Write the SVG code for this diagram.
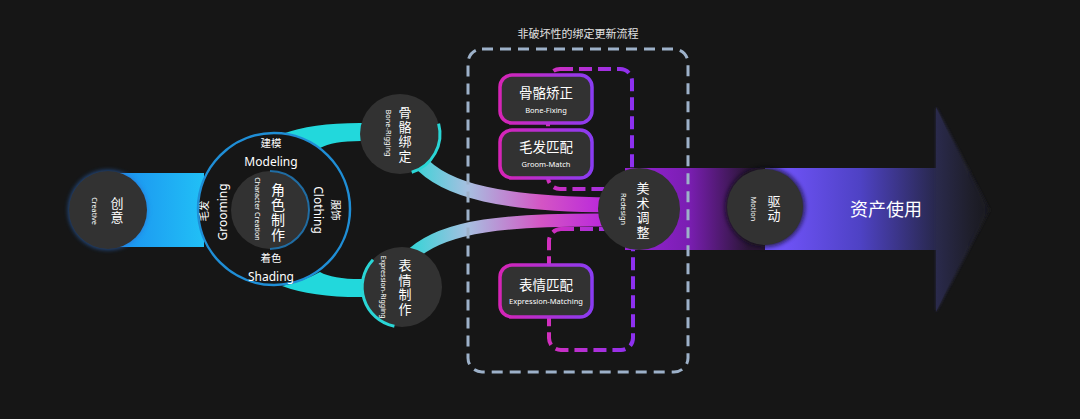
<svg xmlns="http://www.w3.org/2000/svg" width="1080" height="419" viewBox="0 0 1080 419">
<style>
.cn{font-family:"Noto Sans CJK SC","Noto Sans",sans-serif;fill:#ffffff;text-anchor:middle}
.en{font-family:"Noto Sans","Liberation Sans",sans-serif;fill:#ffffff;text-anchor:middle}
.v{writing-mode:vertical-rl;letter-spacing:1.5px}
.node{fill:#323232}
.box{fill:#323232;stroke:url(#boxStroke);stroke-width:3.5}
.dashp{fill:none;stroke:url(#dashStroke);stroke-width:4;stroke-dasharray:13 6}
</style>
<defs>
<linearGradient id="blueBand" x1="0" y1="0" x2="1" y2="0"><stop offset="0" stop-color="#1b8cef"/><stop offset="1" stop-color="#21c0f6"/></linearGradient>
<linearGradient id="bandA" gradientUnits="userSpaceOnUse" x1="405" y1="0" x2="615" y2="0"><stop offset="0" stop-color="#2ad6d6"/><stop offset="0.3" stop-color="#a7bfe0"/><stop offset="0.65" stop-color="#d455c4"/><stop offset="1" stop-color="#b51fe0"/></linearGradient>
<linearGradient id="purple1" gradientUnits="userSpaceOnUse" x1="630" y1="0" x2="748" y2="0"><stop offset="0" stop-color="#9623d4"/><stop offset="0.5" stop-color="#7a1eb2"/><stop offset="1" stop-color="#2a1636"/></linearGradient>
<linearGradient id="purple2" gradientUnits="userSpaceOnUse" x1="785" y1="0" x2="936" y2="0"><stop offset="0" stop-color="#6e52f6"/><stop offset="0.5" stop-color="#4e42c4"/><stop offset="1" stop-color="#28284c"/></linearGradient>
<linearGradient id="arrowHead" gradientUnits="userSpaceOnUse" x1="936" y1="0" x2="992" y2="0"><stop offset="0" stop-color="#2a2a4c"/><stop offset="0.6" stop-color="#1f1f2c"/><stop offset="1" stop-color="#17171b"/></linearGradient>
<linearGradient id="boxStroke" x1="0" y1="0" x2="1" y2="0"><stop offset="0" stop-color="#d624b6"/><stop offset="1" stop-color="#8a3cf2"/></linearGradient>
<linearGradient id="dashStroke" x1="0" y1="0" x2="1" y2="0"><stop offset="0" stop-color="#d22fbe"/><stop offset="1" stop-color="#8d30f0"/></linearGradient>
<filter id="soft" x="-20%" y="-20%" width="140%" height="140%"><feGaussianBlur stdDeviation="1.5"/></filter>
<filter id="glow" x="-30%" y="-30%" width="160%" height="160%"><feGaussianBlur stdDeviation="2"/></filter>
</defs>
<rect width="1080" height="419" fill="#161616"/>

<g id="connectors">
  <rect x="108" y="173" width="96" height="74" fill="url(#blueBand)"/>
  <path d="M282 134 Q314 122 368 123 L368 141 Q334 140 320 148 Q304 139 282 134 Z" fill="#22d8dc"/>
  <path d="M282 286 Q314 298 368 297 L368 279 Q334 280 320 272 Q304 281 282 286 Z" fill="#22d8dc"/>
  <path d="M418 160 C445 192 505 204 612 205" fill="none" stroke="url(#bandA)" stroke-width="15"/>
  <path d="M414 253 C445 226 505 219 612 220" fill="none" stroke="url(#bandA)" stroke-width="13"/>
  <rect x="625" y="168" width="140" height="82" fill="url(#purple1)"/>
  <rect x="765" y="168" width="171" height="82" fill="url(#purple2)"/>
  <polygon points="936,107 990,210 936,312" fill="url(#arrowHead)" filter="url(#soft)"/>
  <polygon points="936,107 984,210 936,312" fill="url(#arrowHead)"/>
</g>

<g id="group-box">
  <rect x="468" y="49" width="220" height="323" rx="14" fill="none" stroke="#9db1c9" stroke-width="3" stroke-dasharray="11 7"/>
  <text class="cn" x="578" y="38" font-size="11" style="fill:#e2e2e2">非破坏性的绑定更新流程</text>
  <rect class="dashp" x="548" y="69" width="84" height="120" rx="12"/>
  <rect class="dashp" x="549" y="229" width="84" height="121" rx="12"/>
</g>

<g id="creative">
  <circle cx="108" cy="210" r="40" fill="#2a6fd0" opacity="0.6" filter="url(#glow)"/>
  <circle class="node" cx="108" cy="210" r="39"/>
  <text class="cn v" x="117" y="211" font-size="13">创意</text>
  <text class="en" font-size="7.2" transform="translate(91.5,211) rotate(90)">Creative</text>
</g>

<g id="character-creation">
  <circle cx="274" cy="209" r="76" fill="#161616" stroke="#1f8ed6" stroke-width="2.5"/>
  <circle class="node" cx="270" cy="210" r="39"/>
  <path d="M270 171 A39 39 0 0 1 270 249" fill="none" stroke="#1f7fc4" stroke-width="2" opacity="0.8"/>
  <text class="cn v" x="278" y="213" font-size="14" style="letter-spacing:1px">角色制作</text>
  <text class="en" font-size="7.2" transform="translate(254.5,209) rotate(90)">Character Creation</text>
  <text class="cn" x="271" y="147" font-size="10.5">建模</text>
  <text class="en" x="271" y="166" font-size="12">Modeling</text>
  <text class="cn" x="271" y="262" font-size="10.5">着色</text>
  <text class="en" x="271" y="281" font-size="12">Shading</text>
  <text class="cn" font-size="10.5" transform="translate(208,211) rotate(-90)">毛发</text>
  <text class="en" font-size="12" transform="translate(227,212) rotate(-90)">Grooming</text>
  <text class="en" font-size="12" transform="translate(314,210) rotate(90)">Clothing</text>
  <text class="cn" font-size="10.5" transform="translate(332,210) rotate(90)">服饰</text>
</g>

<g id="bone-rigging">
  <circle class="node" cx="400" cy="134" r="40"/>
  <path d="M438.6 123.6 A40 40 0 0 1 411.7 172.3" fill="none" stroke="#2ad6d6" stroke-width="3"/>
  <text class="cn v" x="405" y="135" font-size="13">骨骼绑定</text>
  <text class="en" font-size="7.4" transform="translate(385.5,133) rotate(90)">Bone-Rigging</text>
</g>

<g id="expression-rigging">
  <circle class="node" cx="402" cy="287" r="40"/>
  <path d="M373 259.7 A40 40 0 0 0 394.4 326.3" fill="none" stroke="#2ad6d6" stroke-width="3"/>
  <text class="cn v" x="405" y="288" font-size="13">表情制作</text>
  <text class="en" font-size="7" transform="translate(380.5,287) rotate(90)">Expression-Rigging</text>
</g>

<g id="bone-fixing">
  <rect class="box" x="500" y="75" width="92" height="48" rx="12"/>
  <text class="cn" x="546" y="98" font-size="13.5">骨骼矫正</text>
  <text class="en" x="546" y="113" font-size="7.5">Bone-Fixing</text>
</g>

<g id="groom-match">
  <rect class="box" x="500" y="130" width="92" height="48" rx="12"/>
  <text class="cn" x="546" y="152" font-size="13.5">毛发匹配</text>
  <text class="en" x="546" y="167" font-size="7.5">Groom-Match</text>
</g>

<g id="expression-matching">
  <rect class="box" x="500" y="265" width="92" height="52" rx="12"/>
  <text class="cn" x="546" y="290" font-size="13.5">表情匹配</text>
  <text class="en" x="546" y="304" font-size="7.5">Expression-Matching</text>
</g>

<g id="redesign">
  <circle class="node" cx="639" cy="209" r="41"/>
  <text class="cn v" x="643" y="211" font-size="13">美术调整</text>
  <text class="en" font-size="7.4" transform="translate(620.5,209) rotate(90)">Redesign</text>
</g>

<g id="motion">
  <circle cx="765" cy="207" r="40" fill="#0e0e14" opacity="0.7" filter="url(#glow)"/>
  <circle class="node" cx="765" cy="207" r="38"/>
  <text class="cn v" x="774" y="209" font-size="13">驱动</text>
  <text class="en" font-size="7.4" transform="translate(750.5,209) rotate(90)">Motion</text>
</g>

<g id="asset-use">
  <text class="cn" x="886" y="215.5" font-size="18">资产使用</text>
</g>
</svg>
